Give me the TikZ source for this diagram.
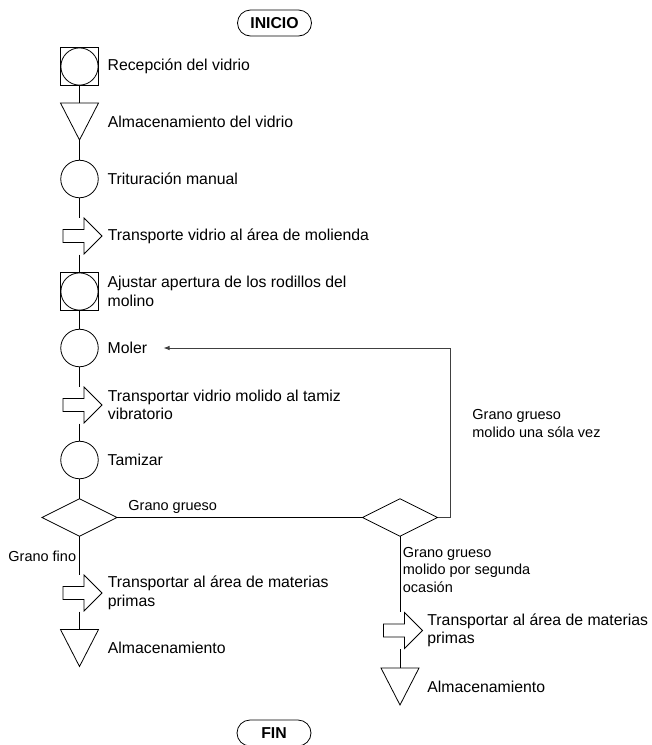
\documentclass[tikz,border=0pt]{standalone}
\usepackage{fontspec}
\setmainfont{Liberation Sans}
\usetikzlibrary{arrows.meta,shapes.geometric,positioning,calc}

% triangulo de almacenamiento y flecha de transporte sobre un nodo vacio
\newcommand{\almacen}[1]{\draw (#1.north west) -- (#1.north east) -- (#1.south) -- cycle;}
\newcommand{\transporte}[1]{\draw ($(#1.center)+(-16.5,-6.5)$) -- ++(21,0) -- ++(0,-11.5) -- ++(18,18) -- ++(-18,18) -- ++(0,-11.5) -- ++(-21,0) -- cycle;}

\begin{document}
\begin{tikzpicture}[x=1pt,y=-1pt,line width=0.8pt,
  simbolo/.style={minimum width=38pt,minimum height=37pt,inner sep=0pt,outer sep=0pt},
  operacion/.style={simbolo,circle,draw,minimum size=37.5pt},
  combinada/.style={simbolo,draw,minimum size=37.5pt,path picture={\draw (path picture bounding box.center) circle[radius=18.6pt];}},
  decision/.style={diamond,draw,minimum width=75pt,minimum height=37.5pt,inner sep=0pt,outer sep=0pt},
  terminal/.style={draw,rounded corners=13pt,minimum width=74pt,minimum height=26pt,inner sep=0pt,font=\fontsize{15.8}{18.5}\selectfont\bfseries},
  texto/.style={inner sep=0pt,align=left,font=\fontsize{15.8}{18.5}\selectfont},
  nota/.style={inner sep=0pt,align=left,font=\fontsize{14.5}{17.5}\selectfont},
  retorno/.style={black!75,line width=0.7pt,-{Latex[length=6pt,width=4.5pt]}}]
  \useasboundingbox (0,0) rectangle (652,745);

  \node[terminal] (inicio) at (274.5,23) {INICIO};

  % columna principal
  \node[combinada] (n1) at (79.5,66.5) {};
  \node[texto,right=9pt of n1] (t1) {Recepción del vidrio};
  \node[simbolo] (n2) at (79.5,121.5) {};
  \almacen{n2}
  \node[texto,right=9pt of n2] (t2) {Almacenamiento del vidrio};
  \node[operacion] (n3) at (79.5,179) {};
  \node[texto,right=9pt of n3] (t3) {Trituración manual};
  \node[simbolo] (n4) at (79.5,236) {};
  \transporte{n4}
  \node[texto,right=9pt of n4] (t4) {Transporte vidrio al área de molienda};
  \node[combinada] (n5) at (79.5,291.5) {};
  \node[texto,right=9pt of n5] (t5) {Ajustar apertura de los rodillos del\\molino};
  \node[operacion] (n6) at (79.5,348) {};
  \node[texto,right=9pt of n6] (t6) {Moler};
  \node[simbolo] (n7) at (79.5,405) {};
  \transporte{n7}
  \node[texto,right=9pt of n7] (t7) {Transportar vidrio molido al tamiz\\vibratorio};
  \node[operacion] (n8) at (79.5,460) {};
  \node[texto,right=9pt of n8] (t8) {Tamizar};
  \node[decision] (d1) at (79.5,517.5) {};
  \node[simbolo] (n9) at (79.5,593) {};
  \transporte{n9}
  \node[texto,right=9pt of n9] (t9) {Transportar al área de materias\\primas};
  \node[simbolo] (n10) at (79.5,648) {};
  \almacen{n10}
  \node[texto,right=9pt of n10] (t10) {Almacenamiento};

  % columna derecha
  \node[decision] (d2) at (400,517.5) {};
  \node[simbolo] (n11) at (400,630.5) {};
  \transporte{n11}
  \node[texto,right=8pt of n11] (t11) {Transportar al área de materias\\primas};
  \node[simbolo] (n12) at (400,686.5) {};
  \almacen{n12}
  \node[texto,right=8pt of n12] (t12) {Almacenamiento};

  \node[terminal] (fin) at (274,733) {FIN};

  \foreach \a/\b in {n1/n2,n2/n3,n3/n4,n4/n5,n5/n6,n6/n7,n7/n8,n8/d1,d1/n9,n9/n10,d2/n11,n11/n12}
    \draw (\a.south) -- (\b.north);
  \draw (d1.east) -- (d2.west);

  % regreso al molino
  \coordinate (vuelta) at (450,348);
  \draw[retorno] (d2.east) -| (vuelta) -- ($(vuelta -| t6.east)+(16,0)$);

  \node[nota,anchor=west] (g1) at (128,506.5) {Grano grueso};
  \node[nota,anchor=east] (g2) at (76.5,556) {Grano fino};
  \node[nota,anchor=west] (g3) at (402.5,570) {Grano grueso\\molido por segunda\\ocasión};
  \node[nota,anchor=west] (g4) at (472,423.5) {Grano grueso\\molido una sóla vez};
\end{tikzpicture}
\end{document}
